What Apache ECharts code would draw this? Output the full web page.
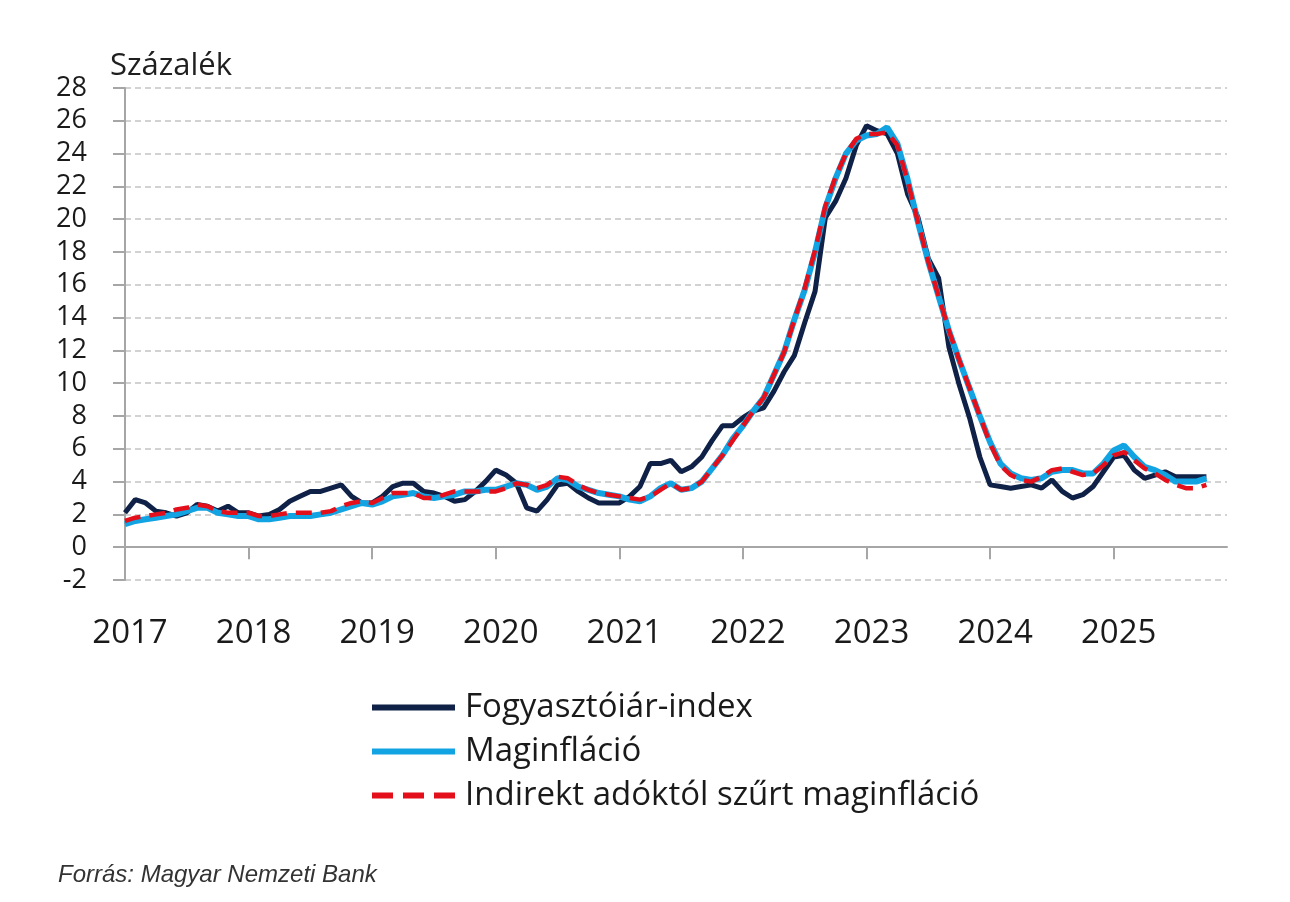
<!DOCTYPE html>
<html>
<head>
<meta charset="utf-8">
<script src="https://cdn.jsdelivr.net/npm/echarts@6/dist/echarts.min.js"></script>
<style>
html,body{margin:0;padding:0;background:#fff;}
#chart{width:1290px;height:902px;}
</style>
</head>
<body>
<div id="chart"></div>
<script>
var years = ['2017','2018','2019','2020','2021','2022','2023','2024','2025'];
var months = ['01','02','03','04','05','06','07','08','09','10','11','12'];
var categories = [];
years.forEach(function(y){ months.forEach(function(m){ categories.push(y + '-' + m); }); });

var seriesNames = ['Fogyasztóiár-index', 'Maginfláció', 'Indirekt adóktól szűrt maginfláció'];

var cpi = [
  2.1, 2.9, 2.7, 2.2, 2.1, 1.9, 2.1, 2.6, 2.5, 2.2, 2.5, 2.1,
  2.1, 1.9, 2.0, 2.3, 2.8, 3.1, 3.4, 3.4, 3.6, 3.8, 3.1, 2.7,
  2.7, 3.1, 3.7, 3.9, 3.9, 3.4, 3.3, 3.1, 2.8, 2.9, 3.4, 4.0,
  4.7, 4.4, 3.9, 2.4, 2.2, 2.9, 3.8, 3.9, 3.4, 3.0, 2.7, 2.7,
  2.7, 3.1, 3.7, 5.1, 5.1, 5.3, 4.6, 4.9, 5.5, 6.5, 7.4, 7.4,
  7.9, 8.3, 8.5, 9.5, 10.7, 11.7, 13.7, 15.6, 20.1, 21.1, 22.5, 24.5,
  25.7, 25.4, 25.2, 24.0, 21.5, 20.1, 17.6, 16.4, 12.2, 9.9, 7.9, 5.5,
  3.8, 3.7, 3.6, 3.7, 3.8, 3.6, 4.1, 3.4, 3.0, 3.2, 3.7, 4.6,
  5.5, 5.6, 4.7, 4.2, 4.4, 4.6, 4.3, 4.3, 4.3, 4.3
];
var core = [
  1.4, 1.6, 1.7, 1.8, 1.9, 2.0, 2.2, 2.4, 2.4, 2.1, 2.0, 1.9,
  1.9, 1.7, 1.7, 1.8, 1.9, 1.9, 1.9, 2.0, 2.1, 2.3, 2.5, 2.7,
  2.6, 2.8, 3.1, 3.2, 3.3, 3.1, 3.0, 3.1, 3.2, 3.4, 3.4, 3.5,
  3.5, 3.7, 3.9, 3.8, 3.5, 3.7, 4.2, 4.1, 3.7, 3.5, 3.3, 3.2,
  3.1, 2.9, 2.8, 3.1, 3.6, 3.9, 3.5, 3.6, 4.0, 4.8, 5.6, 6.6,
  7.4, 8.3, 9.1, 10.5, 11.9, 13.9, 15.7, 18.0, 20.7, 22.5, 24.0, 24.8,
  25.1, 25.2, 25.6, 24.6, 22.4, 19.8, 17.4, 15.3, 13.2, 11.4, 9.7, 8.0,
  6.4, 5.1, 4.5, 4.2, 4.1, 4.2, 4.6, 4.7, 4.7, 4.5, 4.5, 5.1,
  5.9, 6.2, 5.5, 4.9, 4.7, 4.4, 4.0, 4.0, 4.0, 4.2
];
var coreTaxAdj = [
  1.6, 1.8, 1.9, 2.0, 2.1, 2.3, 2.4, 2.6, 2.5, 2.2, 2.1, 2.1,
  2.1, 1.9, 1.9, 2.0, 2.1, 2.1, 2.1, 2.1, 2.2, 2.5, 2.7, 2.8,
  2.7, 3.0, 3.3, 3.3, 3.3, 3.0, 3.0, 3.2, 3.4, 3.4, 3.4, 3.4,
  3.4, 3.6, 3.9, 3.8, 3.6, 3.8, 4.3, 4.2, 3.8, 3.5, 3.3, 3.2,
  3.1, 3.0, 2.9, 3.1, 3.5, 3.9, 3.5, 3.6, 4.0, 4.8, 5.6, 6.5,
  7.4, 8.3, 9.1, 10.5, 11.9, 13.9, 15.8, 18.1, 20.8, 22.6, 24.0, 24.9,
  25.2, 25.2, 25.3, 24.5, 22.3, 19.8, 17.4, 15.3, 13.2, 11.4, 9.7, 8.0,
  6.3, 5.0, 4.4, 4.1, 4.0, 4.3, 4.7, 4.8, 4.6, 4.4, 4.5, 5.0,
  5.6, 5.8, 5.3, 4.8, 4.5, 4.1, 3.8, 3.6, 3.6, 3.8
];

var chart = echarts.init(document.getElementById('chart'), null, {renderer: 'canvas'});
var FONT = '"Open Sans", "Noto Sans", sans-serif';
var solidIcon = 'path://M0,0H83V6H0Z';
var dashIcon = 'path://M0,0H21V6H0Z M31,0H52V6H31Z M62,0H83V6H62Z';

chart.setOption({
  backgroundColor: '#ffffff',
  animation: false,
  grid: {left: 125, right: 63, top: 88, bottom: 322, containLabel: false},
  graphic: [
    {type: 'text', left: 110, top: 51, style: {text: 'Százalék', font: '31px ' + FONT, fill: '#1f1f1f'}},
    {type: 'text', left: 58, top: 863, style: {text: 'Forrás: Magyar Nemzeti Bank', font: 'italic 24px "Liberation Sans", Arial, sans-serif', fill: '#333333'}}
  ],
  legend: {
    orient: 'vertical',
    left: 367,
    top: 686,
    itemWidth: 83,
    itemHeight: 6,
    itemGap: 11,
    textStyle: {fontFamily: FONT, fontSize: 33, color: '#1a1a1a', padding: [0, 0, 0, 5]},
    data: [
      {name: seriesNames[0], icon: solidIcon},
      {name: seriesNames[1], icon: solidIcon},
      {name: seriesNames[2], icon: dashIcon}
    ]
  },
  xAxis: {
    type: 'category',
    data: categories,
    boundaryGap: false,
    axisLine: {onZero: true, lineStyle: {color: '#a6a6a6', width: 2}},
    axisTick: {show: true, length: 12, lineStyle: {color: '#a6a6a6', width: 2},
      interval: function(i){ return i % 12 === 0; }},
    axisLabel: {
      interval: function(i){ return i % 12 === 0; },
      formatter: function(v){ return v.slice(0, 4); },
      margin: 37,
      padding: [0, 0, 0, 10],
      fontFamily: FONT, fontSize: 33, color: '#1a1a1a'
    },
    splitLine: {show: false}
  },
  yAxis: {
    type: 'value',
    min: -2, max: 28, interval: 2,
    axisLine: {show: true, lineStyle: {color: '#a6a6a6', width: 2}},
    axisTick: {show: true, length: 12, lineStyle: {color: '#a6a6a6', width: 2}},
    axisLabel: {margin: 38, fontFamily: FONT, fontSize: 27, color: '#1a1a1a'},
    splitLine: {show: true, lineStyle: {color: '#c4c4c4', width: 1.5, type: [6, 4]}}
  },
  series: [
    {name: seriesNames[0], type: 'line', data: cpi, symbol: 'none',
     lineStyle: {color: '#0f2147', width: 5}, itemStyle: {color: '#0f2147'}, z: 2},
    {name: seriesNames[1], type: 'line', data: core, symbol: 'none',
     lineStyle: {color: '#12a3e3', width: 6}, itemStyle: {color: '#12a3e3'}, z: 3},
    {name: seriesNames[2], type: 'line', data: coreTaxAdj, symbol: 'none',
     lineStyle: {color: '#e3101b', width: 4.5, type: [16, 9]}, itemStyle: {color: '#e3101b'}, z: 4}
  ]
});
</script>
</body>
</html>
